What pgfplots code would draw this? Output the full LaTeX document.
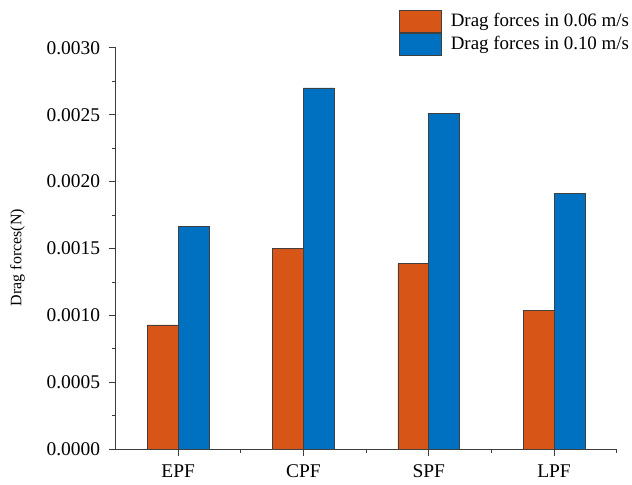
\documentclass[border=0pt]{standalone}
\usepackage{pgfplots}
\pgfplotsset{compat=1.18}
\usepackage{fontspec}
\setmainfont{Liberation Serif}
\definecolor{barorange}{RGB}{214,85,23}
\definecolor{barblue}{RGB}{0,112,192}
\definecolor{axgray}{RGB}{60,60,60}
\begin{document}
\fontsize{19pt}{22pt}\selectfont
\begin{tikzpicture}
\path (-116pt,-30pt) rectangle (516pt,451pt);
\begin{axis}[
  scale only axis,
  width=503pt, height=403pt,
  xmin=-0.5, xmax=3.5,
  ymin=0, ymax=0.003,
  axis x line*=bottom,
  axis y line*=left,
  axis line style={axgray, line width=1.1pt},
  ybar=0pt,
  bar width=31pt,
  xtick={0,1,2,3},
  xticklabels={EPF,CPF,SPF,LPF},
  minor xtick={0.5,1.5,2.5,3.5},
  ytick={0,0.0005,0.001,0.0015,0.002,0.0025,0.003},
  minor ytick={0.00025,0.00075,0.00125,0.00175,0.00225,0.00275},
  tick align=outside,
  major tick length=7pt,
  minor tick length=3.5pt,
  tick style={axgray, line width=1pt},
  scaled y ticks=false,
  /pgf/number format/fixed,
  /pgf/number format/fixed zerofill,
  /pgf/number format/precision=4,
  /pgf/number format/assume math mode=true,
  ticklabel style={font=\fontsize{19.5pt}{22pt}\selectfont},
  xticklabel style={yshift=-2pt},
  yticklabel style={xshift=-2pt},
  ylabel={Drag forces(N)},
  ylabel style={font=\fontsize{16pt}{19pt}\selectfont, yshift=9pt, xshift=-9pt},
  legend style={at={(rel axis cs:0.56,1.1)}, anchor=north west, draw=none, fill=none,
    font=\fontsize{19pt}{22pt}\selectfont,
    nodes={inner sep=0pt, anchor=west}, column sep=0pt, row sep=0.5pt},
  legend cell align=left,
  legend image code/.code={\draw[#1] (0pt,-11pt) rectangle (42pt,11pt); \path (51pt,0pt);},
]
\addplot[fill=barorange, draw=black!75, line width=0.6pt] coordinates {(0,0.00093) (1,0.0015) (2,0.00139) (3,0.00104)};
\addplot[fill=barblue, draw=black!75, line width=0.6pt] coordinates {(0,0.001665) (1,0.0027) (2,0.00251) (3,0.00191)};
\legend{Drag forces in 0.06 m/s, Drag forces in 0.10 m/s}
\end{axis}
\end{tikzpicture}
\end{document}
